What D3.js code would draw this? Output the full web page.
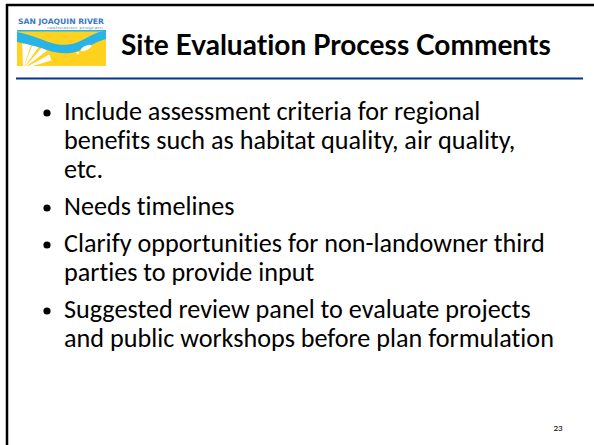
<!DOCTYPE html>
<html>
<head>
<meta charset="utf-8">
<script src="https://cdn.jsdelivr.net/npm/d3@7"></script>
<style>
  html, body { margin: 0; padding: 0; background: #fff; }
  svg { display: block; }
  text { font-variant-ligatures: none; font-feature-settings: "liga" 0, "clig" 0; }
</style>
</head>
<body>
<div id="slide"></div>
<script>
// slide content
const titleText = "Site Evaluation Process Comments";
const bullets = [
    ["Include assessment criteria for regional", "benefits such as habitat quality, air quality,", "etc."],
    ["Needs timelines"],
    ["Clarify opportunities for non-landowner third", "parties to provide input"],
    ["Suggested review panel to evaluate projects", "and public workshops before plan formulation"]
];
const pageNumber = "23";
const logoTitle = "SAN JOAQUIN RIVER";
const logoSub = "restoration program";

const W = 594, H = 445;

const svg = d3.select("#slide")
    .append("svg")
    .attr("width", W)
    .attr("height", H);

// slide frame (top and left edges only are visible)
svg.append("line")
   .attr("x1", 6).attr("y1", 5).attr("x2", W).attr("y2", 5)
   .attr("stroke", "#000").attr("stroke-width", 2.5);
svg.append("line")
   .attr("x1", 7).attr("y1", 4).attr("x2", 7).attr("y2", H)
   .attr("stroke", "#000").attr("stroke-width", 2.5);

// logo
function drawLogo(g) {
    g.append("rect").attr("x", 0).attr("y", 0).attr("width", 89).attr("height", 49).attr("fill", "#fff");
    g.append("text")
     .attr("x", 1).attr("y", 7)
     .style("font-family", "DejaVu Sans")
     .style("font-weight", "bold")
     .style("font-size", "7.5px")
     .attr("textLength", 86).attr("lengthAdjust", "spacingAndGlyphs")
     .attr("fill", "#3a78c8")
     .text(logoTitle);
    g.append("text")
     .attr("x", 30).attr("y", 12)
     .style("font-family", "DejaVu Sans")
     .style("font-size", "3.5px")
     .attr("textLength", 56).attr("lengthAdjust", "spacingAndGlyphs")
     .attr("fill", "#6aa0d8")
     .text(logoSub);
    // yellow field
    g.append("rect").attr("x", 0).attr("y", 13).attr("width", 89).attr("height", 36).attr("fill", "#ffd21f");
    // white sun rays from lower left
    const rays = [[-1.6, -1.25], [-1.2, -0.95], [-0.85, -0.65], [-0.5, -0.3]];
    rays.forEach(r => {
        const cx = 6, cy = 52, len = 30;
        g.append("path")
         .attr("d", `M${cx},${cy} L${cx + len * Math.cos(r[0])},${cy + len * Math.sin(r[0])} L${cx + len * Math.cos(r[1])},${cy + len * Math.sin(r[1])} Z`)
         .attr("fill", "#fff");
    });
    // blue river band
    const top = d3.line().curve(d3.curveBasis)([[0, 15], [20, 20], [40, 29], [60, 27], [75, 17], [89, 13]]);
    const bot = d3.line().curve(d3.curveBasis)([[89, 22], [75, 27], [60, 36], [40, 37], [20, 29], [0, 25]]);
    g.append("path").attr("d", top + "L" + bot.slice(1) + "Z").attr("fill", "#28b4e6");
    // thin blue line at top
    g.append("rect").attr("x", 0).attr("y", 13).attr("width", 89).attr("height", 1.5).attr("fill", "#28b4e6");
    // fish
    g.append("ellipse").attr("cx", 69).attr("cy", 31).attr("rx", 6).attr("ry", 2.2)
     .attr("transform", "rotate(-25 69 31)").attr("fill", "#fff");
    g.append("path").attr("d", "M62,35 L59,35 L61,38 Z").attr("fill", "#fff");
}
drawLogo(svg.append("g").attr("transform", "translate(17,17)"));

// title
const title = svg.append("text")
    .attr("x", 121).attr("y", 55)
    .style("font-family", "Lato, 'Open Sans', sans-serif")
    .style("font-weight", "bold")
    .style("font-size", "22px")
    .attr("fill", "#000")
    .text(titleText);
const tw = title.node().getComputedTextLength();
title.style("font-size", (22 * 430 / tw).toFixed(2) + "px");

// blue rule under header
svg.append("line")
   .attr("x1", 16).attr("y1", 78.5).attr("x2", 583).attr("y2", 78.5)
   .attr("stroke", "#003594").attr("stroke-width", 2);

// bullets
const bodyFont = "Carlito, Lato, 'Open Sans', sans-serif";
const lineH = 29, paraGap = 8;
let yPos = 120;
const body = svg.append("g");
const lines = [];
bullets.forEach(b => {
    b.forEach((ln, i) => {
        lines.push({ text: ln, y: yPos, first: i === 0 });
        yPos += lineH;
    });
    yPos += paraGap;
});

const bodyText = body.selectAll(".line")
    .data(lines)
    .enter()
    .append("text")
    .attr("class", "line")
    .attr("x", 64)
    .attr("y", d => d.y)
    .style("font-family", bodyFont)
    .style("font-size", "22px")
    .attr("fill", "#000")
    .text(d => d.text);

// fit the longest line to the reference width
const longest = d3.max(bodyText.nodes(), n => n.getComputedTextLength());
const bodySize = 22 * 490 / longest;
bodyText.style("font-size", bodySize.toFixed(2) + "px");

body.selectAll(".dot")
    .data(lines.filter(d => d.first))
    .enter()
    .append("circle")
    .attr("class", "dot")
    .attr("cx", 47)
    .attr("cy", d => d.y - 7)
    .attr("r", 3.6)
    .attr("fill", "#000");

// page number
svg.append("text")
   .attr("x", 558).attr("y", 431)
   .attr("text-anchor", "middle")
   .style("font-family", bodyFont)
   .style("font-size", "9px")
   .attr("fill", "#000")
   .text(pageNumber);
</script>
</body>
</html>
